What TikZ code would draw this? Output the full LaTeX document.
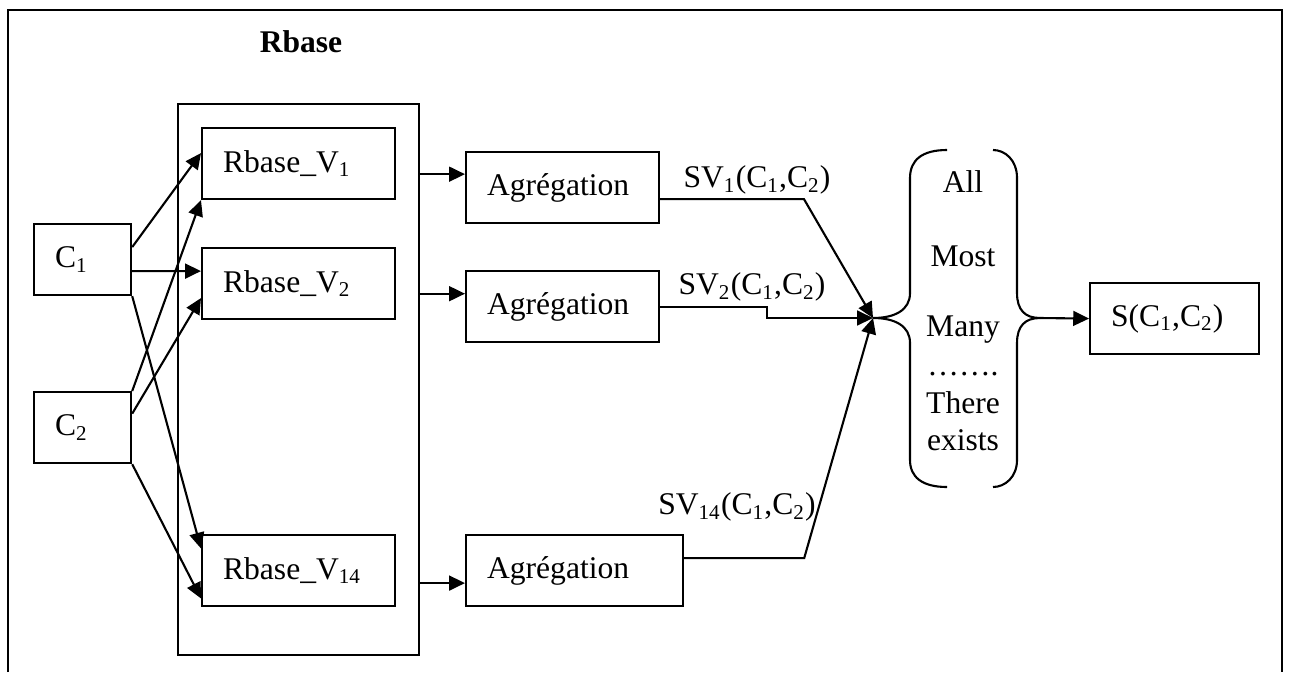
\documentclass[tikz,border=0pt]{standalone}
\usepackage{fontspec}
\setmainfont{Liberation Serif}
\usetikzlibrary{arrows.meta, positioning}

\begin{document}
\begin{tikzpicture}[
    x=0.38pt, y=-0.38pt, line width=0.8pt,
    >={Triangle[length=6pt, width=5.6pt]},
    every node/.style={font=\fontsize{12}{14.4}\selectfont},
    box/.style={rectangle, draw, anchor=north west, minimum height=27pt, inner xsep=8pt, inner ysep=0pt, align=left},
    vbox/.style={box, text width=57.3pt},
    cbox/.style={box, text width=20.9pt},
    word/.style={inner sep=0pt}
]
\useasboundingbox (0,0) rectangle (1290,672);
% Outer frame
\draw (8,672) -- (8,10) -- (1282,10) -- (1282,672);
% Rule base
\node[font=\fontsize{12}{14.4}\selectfont\bfseries] (title) at (301,42) {Rbase};
\node[draw, anchor=north west, minimum width=91.6pt, minimum height=209.4pt, inner sep=0pt] (rbase) at (177,103) {};
\node[vbox] (v1) at (201,127) {Rbase\_V\textsubscript{1}};
\node[vbox] (v2) at (201,247) {Rbase\_V\textsubscript{2}};
\node[vbox] (v14) at (201,534) {Rbase\_V\textsubscript{14}};
% Concepts
\node[cbox] (c1) at (33,223) {C\textsubscript{1}};
\node[cbox] (c2) at (33,391) {C\textsubscript{2}};
\draw[->] ([yshift=4.75pt]c1.east) -- ([yshift=4pt]v1.west);
\draw[->] ([yshift=-4.4pt]c1.east) -- ([yshift=4.75pt]v2.west);
\draw[->] (c1.south east) -- ([yshift=8.4pt]v14.west);
\draw[->] (c2.north east) -- (v1.south west);
\draw[->] ([yshift=5.3pt]c2.east) -- ([yshift=-5.5pt]v2.west);
\draw[->] (c2.south east) -- ([yshift=-10.6pt]v14.west);
% Aggregation
\node[vbox] (agg1) at (465,151) {Agrégation};
\node[vbox] (agg2) at (465,270) {Agrégation};
\node[box, text width=66.5pt] (agg3) at (465,534) {Agrégation};
\coordinate (a1) at ([yshift=5.1pt]agg1.west);
\coordinate (a2) at ([yshift=4.9pt]agg2.west);
\coordinate (a3) at ([yshift=-4.75pt]agg3.west);
\draw[->] (a1 -| rbase.east) -- (a1);
\draw[->] (a2 -| rbase.east) -- (a2);
\draw[->] (a3 -| rbase.east) -- (a3);
% Partial similarities
\coordinate (merge) at (873,318);
\draw[->] ([yshift=-4.4pt]agg1.east) -- ++(144,0) -- (merge);
\draw[->] (agg2.east) -- ++(107,0) |- (merge);
\draw[->] ([yshift=4.75pt]agg3.east) -- ++(120,0) -- (merge);
\node (sv1) at (757,180) {SV\textsubscript{1}(C\textsubscript{1},C\textsubscript{2})};
\node (sv2) at (752,287) {SV\textsubscript{2}(C\textsubscript{1},C\textsubscript{2})};
\node (sv14) at (737,507) {SV\textsubscript{14}(C\textsubscript{1},C\textsubscript{2})};
% Quantifiers
\draw (947,150) .. controls (922,150) and (910,160) .. (910,178) -- (910,293)
      .. controls (910,310) and (895,318) .. (merge)
      .. controls (895,318) and (910,326) .. (910,343) -- (910,460)
      .. controls (910,477) and (922,487) .. (947,487);
\coordinate (tip) at (1040,318);
\draw (993,150) .. controls (1005,150) and (1017,160) .. (1017,178) -- (1017,293)
      .. controls (1017,310) and (1025,318) .. (tip)
      .. controls (1025,318) and (1017,326) .. (1017,343) -- (1017,460)
      .. controls (1017,477) and (1005,487) .. (993,487);
\node[word] (q1) at (963,182) {All};
\node[word] (q2) at (963,256) {Most};
\node[word] (q3) at (963,330) {Many};
\node[word] (q4) at (963,374) {…….};
\node[word] (q5) at (963,403) {There};
\node[word] (q6) at (963,440) {exists};
% Global similarity
\node[box, text width=48.2pt] (s) at (1089,282) {S(C\textsubscript{1},C\textsubscript{2})};
\draw[->] (tip) -- (s.west);
\end{tikzpicture}
\end{document}
